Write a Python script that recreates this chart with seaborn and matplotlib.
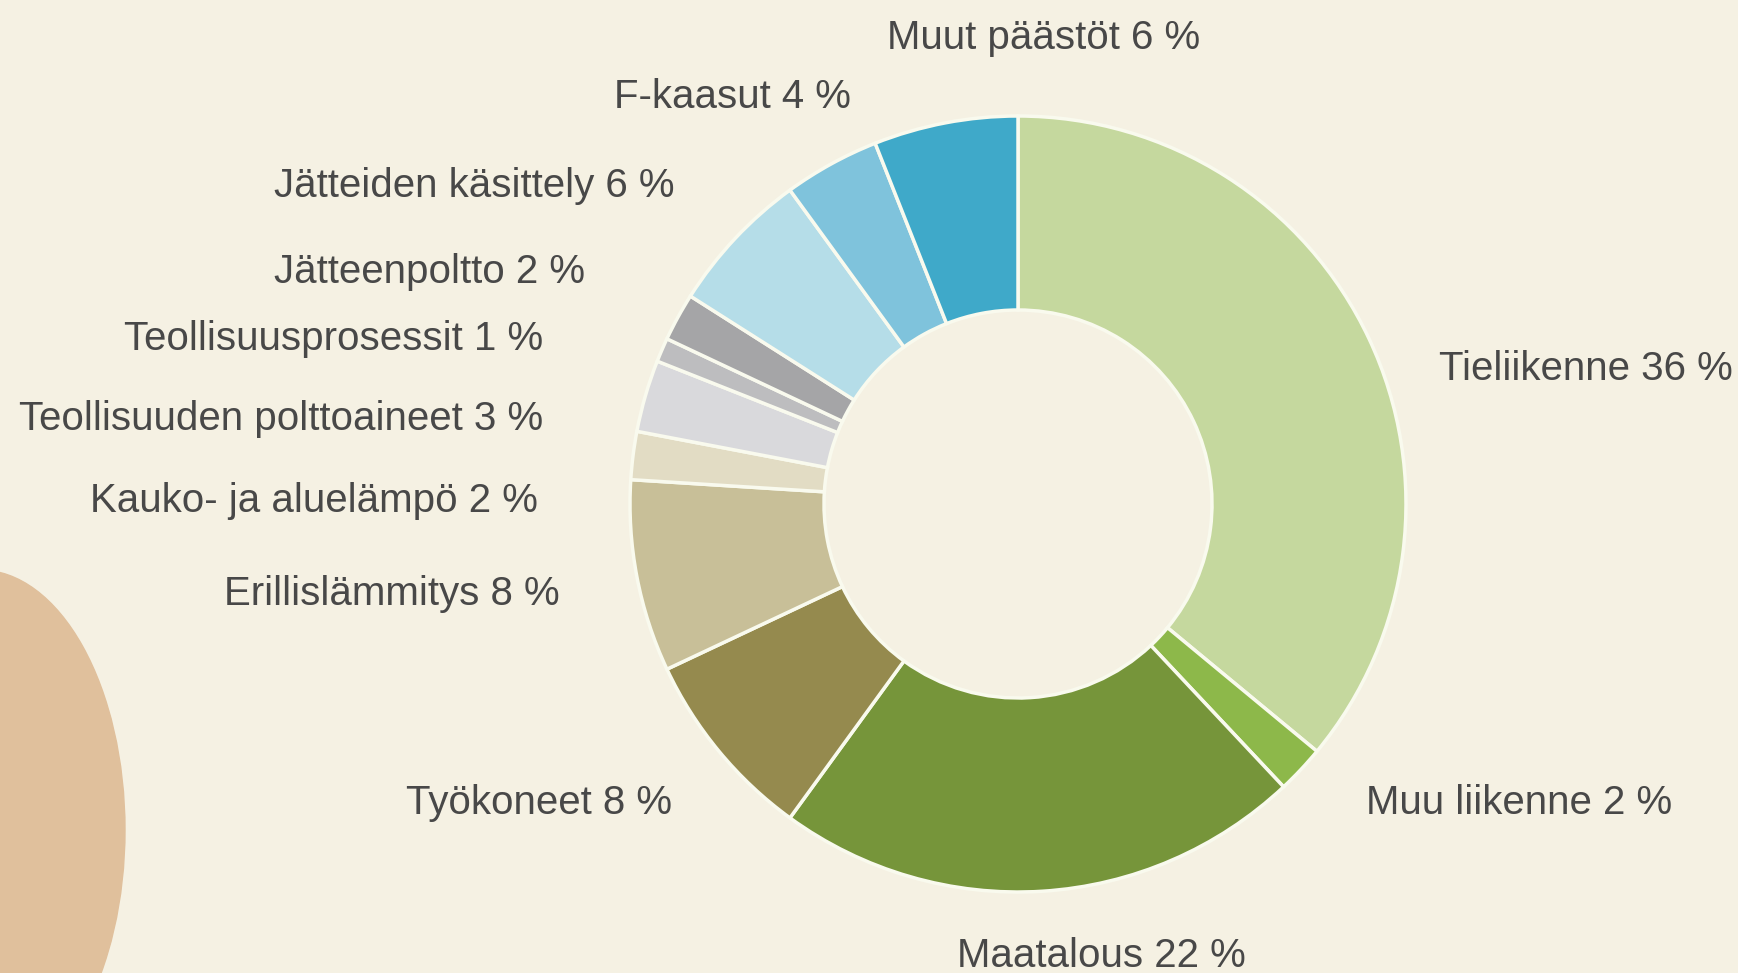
import matplotlib.pyplot as plt
import seaborn as sns
from matplotlib.patches import Ellipse

# Data
sectors = ['Tieliikenne', 'Muu liikenne', 'Maatalous', 'Työkoneet', 'Erillislämmitys',
           'Kauko- ja aluelämpö', 'Teollisuuden polttoaineet', 'Teollisuusprosessit',
           'Jätteenpoltto', 'Jätteiden käsittely', 'F-kaasut', 'Muut päästöt']
shares = [36, 2, 22, 8, 8, 2, 3, 1, 2, 6, 4, 6]
colors = ['#c5d89e', '#8db84a', '#76953a', '#958a4e', '#c8bf98', '#e2dcc4',
          '#d9d9dc', '#bdbdbf', '#a5a5a7', '#b5dde8', '#7fc3dc', '#3fa9c9']

# label placement (pixels from top-left), alignment
label_pos = [(1439, 369, 'left'), (1366, 803, 'left'), (1101, 956, 'center'),
             (672, 803, 'right'), (560, 594, 'right'), (538, 501, 'right'),
             (543, 419, 'right'), (543, 339, 'right'), (585, 272, 'right'),
             (674, 186, 'right'), (851, 97, 'right'), (1044, 38, 'center')]

W, H = 1738, 973
bg = '#f5f1e3'

sns.set_theme(style='white', rc={'figure.facecolor': bg, 'axes.facecolor': bg})
plt.rcParams['font.family'] = ['Liberation Sans', 'DejaVu Sans']

fig = plt.figure(figsize=(W / 100, H / 100), dpi=100)
ax = fig.add_axes([0, 0, 1, 1])

# decorative blob on the left
ax.add_patch(Ellipse((-20, H - 830), 290, 520, color='#e0c09c', zorder=0))

ax.pie(shares, colors=colors, startangle=90, counterclock=False,
       center=(1018, H - 504), radius=388,
       wedgeprops=dict(width=194, edgecolor='#f9faee', linewidth=2.5))

for name, val, (x, y, ha) in zip(sectors, shares, label_pos):
    ax.text(x, H - y, f'{name} {val} %', ha=ha, va='center',
            fontsize=29, color='#484848')

ax.set_xlim(0, W)
ax.set_ylim(0, H)
ax.set_aspect('equal')
ax.axis('off')

fig.savefig('out.png', dpi=100, facecolor=bg)
